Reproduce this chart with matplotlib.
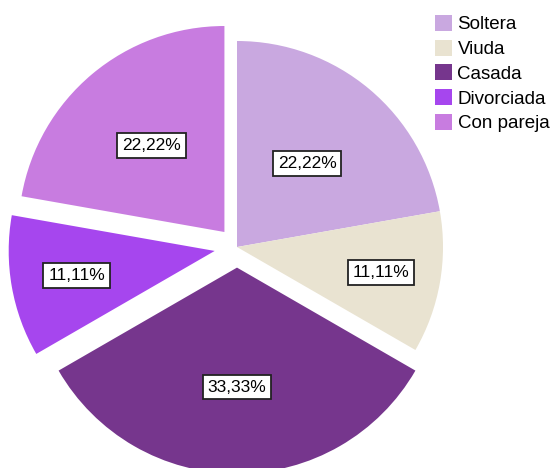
import numpy as np
import matplotlib
matplotlib.use("Agg")
import matplotlib.pyplot as plt
from matplotlib.patches import Patch

# data
labels = ["Soltera", "Viuda", "Casada", "Divorciada", "Con pareja"]
counts = [2, 1, 3, 1, 2]
colors = ["#C9A8E0", "#E9E3D1", "#76368D", "#A646EE", "#C87CE0"]
explode = [0, 0, 0.1, 0.11, 0.095]

# radial position of each percentage box (fraction of radius)
label_r = [0.53, 0.71, 0.58, 0.68, 0.55]

plt.rcParams["font.family"] = ["Liberation Sans", "DejaVu Sans"]

W, H = 550, 468
CX, CY, R = 237, 247, 206   # pie centre / radius in pixels

fig = plt.figure(figsize=(W / 100, H / 100), dpi=100)
ax = fig.add_axes([0, 0, 1, 1])

wedges, _ = ax.pie(counts, colors=colors, explode=explode, startangle=90,
                   counterclock=False, radius=1.0,
                   wedgeprops=dict(linewidth=0))

total = sum(counts)
for w, c, lr in zip(wedges, counts, label_r):
    mid = np.deg2rad((w.theta1 + w.theta2) / 2)
    x = w.center[0] + lr * w.r * np.cos(mid)
    y = w.center[1] + lr * w.r * np.sin(mid)
    pct = f"{100 * c / total:.2f}%".replace(".", ",")
    ax.text(x, y, pct, ha="center", va="center", fontsize=12.5, color="black",
            bbox=dict(boxstyle="square,pad=0.28", fc="white", ec="#222222", lw=1.3))

ax.set_xlim(-CX / R, (W - CX) / R)
ax.set_ylim(-(H - CY) / R, CY / R)
ax.axis("off")

handles = [Patch(facecolor=c, edgecolor="none") for c in colors]
fig.legend(handles, labels, loc="upper left",
           bbox_to_anchor=(435 / W, 1 - 15 / H), frameon=False,
           fontsize=13.5, handlelength=0.92, handleheight=0.92,
           handletextpad=0.28, labelspacing=0.34, borderpad=0, borderaxespad=0)

fig.savefig("out.png", dpi=100, facecolor="white")
